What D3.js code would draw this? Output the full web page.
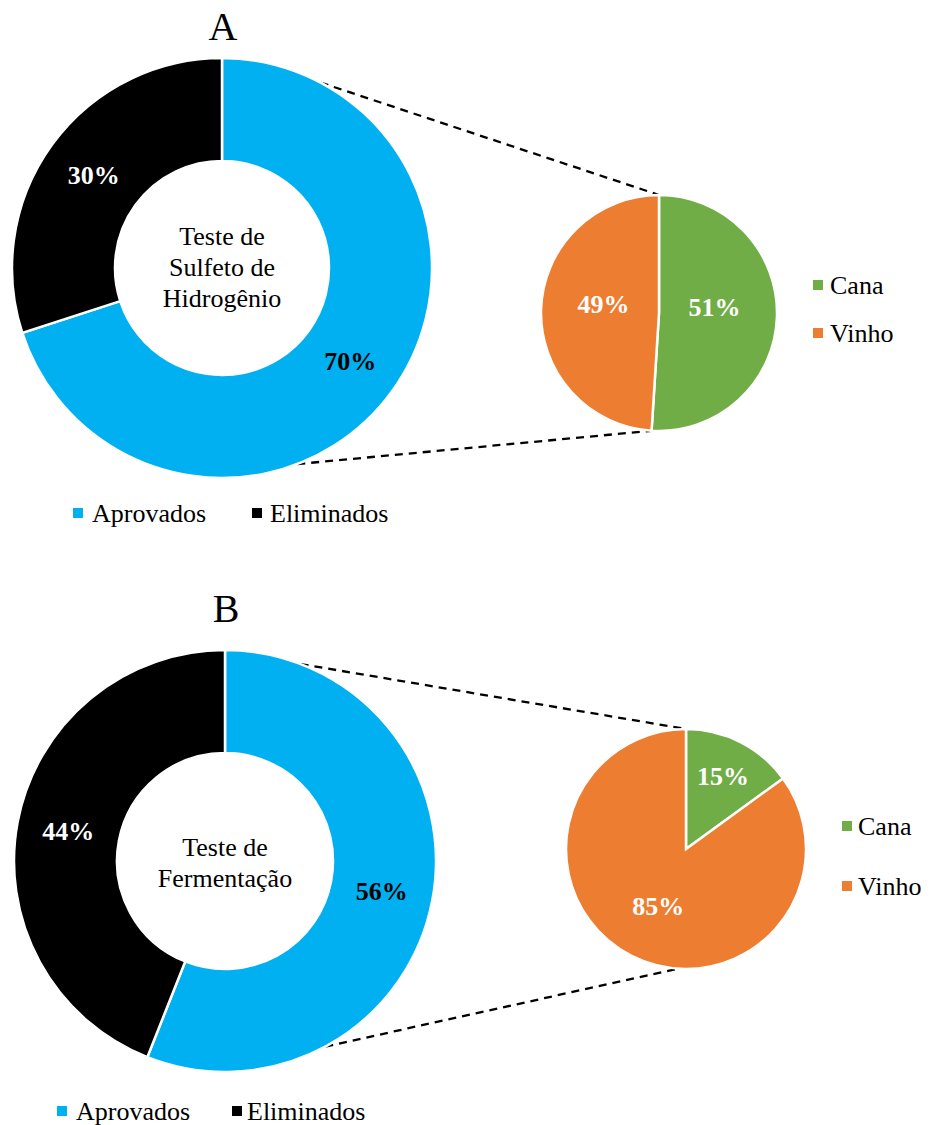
<!DOCTYPE html>
<html>
<head>
<meta charset="utf-8">
<script src="https://cdn.jsdelivr.net/npm/d3@7"></script>
<style>
  html, body { margin: 0; padding: 0; background: #ffffff; }
  svg { display: block; }
  svg text { font-family: "Liberation Serif", "DejaVu Serif", serif; }
</style>
</head>
<body>
<svg id="chart" width="930" height="1125" font-family="Liberation Serif, serif"></svg>
<script>
// Categories and values
const donutCategories = ["Aprovados", "Eliminados"];
const pieCategories = ["Cana", "Vinho"];
const panelTitles = ["A", "B"];
const sulfetoValues = [70, 30];
const fermentacaoValues = [56, 44];
const sulfetoPieValues = [51, 49];
const fermentacaoPieValues = [15, 85];
const centerLabels = [
  ["Teste de", "Sulfeto de", "Hidrogênio"],
  ["Teste de", "Fermentação"]
];

const FONT = "Liberation Serif, Times New Roman, serif";

const donutColor = d3.scaleOrdinal().domain(donutCategories).range(["#00B0F0", "#000000"]);
const donutText = d3.scaleOrdinal().domain(donutCategories).range(["#000000", "#ffffff"]);
const pieColor = d3.scaleOrdinal().domain(pieCategories).range(["#70AD47", "#ED7D31"]);

// Layout of each panel
const panels = [
  {
    title: panelTitles[0], titleX: 223, titleY: 40,
    donut: { cx: 222, cy: 268, r: 210, r0: 107, values: sulfetoValues },
    center: centerLabels[0], centerY: 267,
    pie: { cx: 659, cy: 313, r: 118, values: sulfetoPieValues, labelR: [0.47, 0.47], labelDy: [-8, -7] },
    link: { donutAngles: [28, 159], pieAngles: [0, 183.6] },
    legend: { y: 513, sq: [73, 252], tx: [92, 270] },
    pieLegend: { sq: 813, tx: 830, y: [285, 333] }
  },
  {
    title: panelTitles[1], titleX: 226, titleY: 622,
    donut: { cx: 225, cy: 861, r: 211, r0: 108, values: fermentacaoValues },
    center: centerLabels[1], centerY: 862,
    pie: { cx: 686, cy: 849, r: 120, values: fermentacaoPieValues, labelR: [0.68, 0.51], labelDy: [0, 2] },
    link: { donutAngles: [21, 151.6], pieAngles: [0, 184] },
    legend: { y: 1111, sq: [57, 232], tx: [76, 247] },
    pieLegend: { sq: 842, tx: 858, y: [826, 886] }
  }
];

const svg = d3.select("#chart");
const rad = deg => deg * Math.PI / 180;
// point on a circle, angle measured clockwise from 12 o'clock
const polar = (cx, cy, r, deg) => [cx + r * Math.sin(rad(deg)), cy - r * Math.cos(rad(deg))];

panels.forEach(p => {
  const g = svg.append("g");

  // Panel letter
  g.append("text")
    .attr("x", p.titleX).attr("y", p.titleY)
    .attr("text-anchor", "middle")
    .attr("font-family", FONT)
    .attr("font-size", 40)
    .text(p.title);

  // Dashed connectors between the ring and the detail pie
  const D = p.donut, P = p.pie;
  [0, 1].forEach(i => {
    const a = polar(D.cx, D.cy, D.r, p.link.donutAngles[i]);
    const b = polar(P.cx, P.cy, P.r, p.link.pieAngles[i]);
    g.append("line")
      .attr("x1", a[0]).attr("y1", a[1])
      .attr("x2", b[0]).attr("y2", b[1])
      .attr("stroke", "#000").attr("stroke-width", 2.3)
      .attr("stroke-dasharray", "8,6");
  });

  // Donut
  const donutData = donutCategories.map((c, i) => ({ cat: c, value: D.values[i] }));
  const pieGen = d3.pie().sort(null).value(d => d.value);
  const donutArcs = pieGen(donutData);
  const donutArc = d3.arc().innerRadius(D.r0).outerRadius(D.r);
  const donutLabelArc = d3.arc().innerRadius((D.r + D.r0) / 2).outerRadius((D.r + D.r0) / 2);
  const dg = g.append("g").attr("transform", `translate(${D.cx},${D.cy})`);
  dg.selectAll("path").data(donutArcs).join("path")
    .attr("d", donutArc)
    .attr("fill", d => donutColor(d.data.cat))
    .attr("stroke", "#fff").attr("stroke-width", 2.5);
  dg.selectAll("text.val").data(donutArcs).join("text")
    .attr("class", "val")
    .attr("transform", d => `translate(${donutLabelArc.centroid(d)})`)
    .attr("text-anchor", "middle")
    .attr("dy", "0.35em")
    .attr("font-family", FONT)
    .attr("font-size", 26).attr("font-weight", "bold")
    .attr("fill", d => donutText(d.data.cat))
    .text(d => d.data.value + "%");

  // Centre caption
  const lh = 31;
  const n = p.center.length;
  g.append("g").selectAll("text").data(p.center).join("text")
    .attr("x", D.cx)
    .attr("y", (d, i) => p.centerY + (i - (n - 1) / 2) * lh)
    .attr("dy", "0.35em")
    .attr("text-anchor", "middle")
    .attr("font-family", FONT)
    .attr("font-size", 26)
    .text(d => d);

  // Detail pie
  const pieData = pieCategories.map((c, i) => ({ cat: c, value: P.values[i] }));
  const pieArcs = pieGen(pieData);
  const pieArc = d3.arc().innerRadius(0).outerRadius(P.r);
  const pg = g.append("g").attr("transform", `translate(${P.cx},${P.cy})`);
  pg.selectAll("path").data(pieArcs).join("path")
    .attr("d", pieArc)
    .attr("fill", d => pieColor(d.data.cat))
    .attr("stroke", "#fff").attr("stroke-width", 2.5);
  pg.selectAll("text.val").data(pieArcs).join("text")
    .attr("class", "val")
    .attr("transform", (d, i) => {
      const lr = P.r * P.labelR[i];
      const c = d3.arc().innerRadius(lr).outerRadius(lr).centroid(d);
      return `translate(${c[0]},${c[1] + P.labelDy[i]})`;
    })
    .attr("text-anchor", "middle")
    .attr("dy", "0.35em")
    .attr("font-family", FONT)
    .attr("font-size", 26).attr("font-weight", "bold")
    .attr("fill", "#fff")
    .text(d => d.data.value + "%");

  // Legend under the ring
  const L = p.legend;
  donutCategories.forEach((c, i) => {
    g.append("rect")
      .attr("x", L.sq[i]).attr("y", L.y - 5)
      .attr("width", 10).attr("height", 10)
      .attr("fill", donutColor(c));
    g.append("text")
      .attr("x", L.tx[i]).attr("y", L.y)
      .attr("dy", "0.35em")
      .attr("font-family", FONT)
      .attr("font-size", 26)
      .attr("fill", "#000")
      .text(c);
  });

  // Legend beside the pie
  const PL = p.pieLegend;
  pieCategories.forEach((c, i) => {
    g.append("rect")
      .attr("x", PL.sq).attr("y", PL.y[i] - 5)
      .attr("width", 10).attr("height", 10)
      .attr("fill", pieColor(c));
    g.append("text")
      .attr("x", PL.tx).attr("y", PL.y[i])
      .attr("dy", "0.35em")
      .attr("font-family", FONT)
      .attr("font-size", 26)
      .attr("fill", "#000")
      .text(c);
  });
});
</script>
</body>
</html>
